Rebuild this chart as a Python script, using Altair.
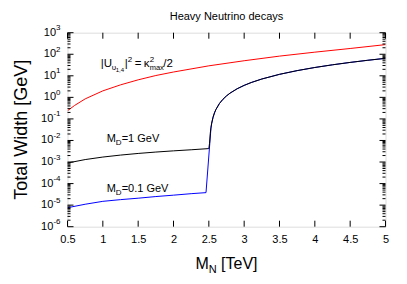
import altair as alt
import pandas as pd

FONT = "Liberation Sans"
W, H = 318, 194

# ---- data ----
red_x = [0.5, 0.6, 0.75, 1.0, 1.25, 1.5, 1.75, 2.0, 2.5, 3.0, 3.5, 4.0, 4.5, 5.0]
red_y = [0.24, 0.42, 0.85, 2.0, 3.8, 6.5, 10.3, 15, 29, 50, 82, 125, 185, 280]

black_x = [0.5, 0.75, 1.0, 1.25, 1.5, 1.75, 2.0, 2.25, 2.5, 2.51, 2.52, 2.53, 2.54,
           2.56, 2.58, 2.6, 2.65, 2.7, 2.75, 2.8, 2.9, 3.0, 3.1, 3.25, 3.5, 3.75,
           4.0, 4.25, 4.5, 4.75, 5.0]
black_y = [9e-4, 1.3e-3, 1.7e-3, 2.1e-3, 2.5e-3, 2.9e-3, 3.3e-3, 3.7e-3, 4.2e-3,
           7.4e-3, 0.0208, 0.040, 0.064, 0.122, 0.193, 0.274, 0.52, 0.82, 1.17,
           1.57, 2.5, 3.6, 4.88, 7.1, 11.7, 17.4, 24.3, 32.4, 41.8, 52.6, 64.8]

blue_x = [0.5, 0.75, 1.0, 1.25, 1.5, 1.75, 2.0, 2.25, 2.46, 2.53, 2.54, 2.56, 2.58,
          2.6, 2.65, 2.7, 2.75, 2.8, 2.9, 3.0, 3.1, 3.25, 3.5, 3.75, 4.0, 4.25,
          4.5, 4.75, 5.0]
blue_y = [7.6e-6, 1.1e-5, 1.5e-5, 1.8e-5, 2.1e-5, 2.5e-5, 2.9e-5, 3.4e-5, 3.8e-5,
          0.036, 0.060, 0.118, 0.189, 0.270, 0.516, 0.816, 1.166, 1.566, 2.5, 3.6,
          4.88, 7.1, 11.7, 17.4, 24.3, 32.4, 41.8, 52.6, 64.8]

x_ticks = [0.5, 1.0, 1.5, 2.0, 2.5, 3.0, 3.5, 4.0, 4.5, 5.0]
y_exps = [-6, -5, -4, -3, -2, -1, 0, 1, 2, 3]
y_minor_mult = [2, 3, 4, 5, 6, 7, 8, 9]

# ---- scales ----
xscale = alt.Scale(domain=[0.5, 5], nice=False, zero=False)
yscale = alt.Scale(type="log", domain=[1e-6, 1e3], nice=False)

X = alt.X("M:Q", scale=xscale,
          axis=alt.Axis(values=x_ticks, format="~g", ticks=False, tickSize=0,
                        domain=False, grid=False, labelFont=FONT,
                        labelFontSize=11, labelPadding=7, labelColor="black",
                        labelFlush=False, title=None))
Y = alt.Y("G:Q", scale=yscale, axis=None)


def line(xs, ys, color):
    df = pd.DataFrame({"M": xs, "G": ys, "o": list(range(len(xs)))})
    return alt.Chart(df).mark_line(color=color, strokeWidth=1, clip=True).encode(
        x=X, y=Y, order="o:Q")


layers = [line(blue_x, blue_y, "#0000ff"),
          line(black_x, black_y, "#000000"),
          line(red_x, red_y, "#ff0000")]

# ---- inward ticks on all four sides ----
xt = pd.DataFrame({"M": x_ticks})
for y0, y1 in [(H, H - 6), (0, 6)]:
    layers.append(alt.Chart(xt).mark_rule(color="black", strokeWidth=1).encode(
        x=X, y=alt.value(y0), y2=alt.value(y1)))

ymaj = pd.DataFrame({"G": [10.0 ** e for e in y_exps]})
ymin = pd.DataFrame({"G": [m * 10.0 ** e for e in y_exps[:-1] for m in y_minor_mult]})
for df, ln in [(ymaj, 6), (ymin, 3)]:
    for x0, x1 in [(0, ln), (W, W - ln)]:
        layers.append(alt.Chart(df).mark_rule(color="black", strokeWidth=1).encode(
            y=Y, x=alt.value(x0), x2=alt.value(x1)))

# ---- y tick labels 10^n ----
lab = pd.DataFrame({"G": [10.0 ** e for e in y_exps],
                    "e": [str(e) for e in y_exps],
                    "neg": [1 if e < 0 else 0 for e in y_exps]})
layers.append(alt.Chart(lab[lab.neg == 1]).mark_text(
    align="right", baseline="middle", dx=-14.2, font=FONT, fontSize=11,
    color="black").encode(y=Y, x=alt.value(0), text=alt.value("10")))
layers.append(alt.Chart(lab[lab.neg == 0]).mark_text(
    align="right", baseline="middle", dx=-11.5, font=FONT, fontSize=11,
    color="black").encode(y=Y, x=alt.value(0), text=alt.value("10")))
layers.append(alt.Chart(lab).mark_text(
    align="right", baseline="middle", dx=-7, dy=-4.5, font=FONT, fontSize=8,
    color="black").encode(y=Y, x=alt.value(0), text="e:N"))


# ---- annotations placed in data coordinates ----
def pieces(mx, gy, parts):
    out = []
    for txt, dx, dy, size in parts:
        df = pd.DataFrame({"M": [mx], "G": [gy], "t": [txt]})
        out.append(alt.Chart(df).mark_text(
            align="left", baseline="alphabetic", dx=dx, dy=dy, font=FONT,
            fontSize=size, color="black").encode(x=X, y=Y, text="t:N"))
    return out


layers += pieces(0.97, 27, [("|U", 0, 0, 11.5), ("υ", 11, 3, 8), ("1,4", 15, 5, 6),
                            ("|", 24, 0, 11.5), ("2", 27, -5, 8), ("=", 34, 0, 11.5),
                            ("κ", 43, 0, 11.5), ("2", 49, -5, 8), ("max", 49, 3, 7.5),
                            ("/2", 62.5, 0, 11.5)])
layers += pieces(1.054, 0.0087, [("M", 0, 0, 11), ("D", 9.2, 3, 8), ("=1 GeV", 15, 0, 11)])
layers += pieces(1.054, 4.2e-5, [("M", 0, 0, 11), ("D", 9.2, 3, 8), ("=0.1 GeV", 15, 0, 11)])


# ---- titles ----
def label(txt, x, y, size, **kw):
    df = pd.DataFrame({"t": [txt]})
    return alt.Chart(df).mark_text(font=FONT, fontSize=size, color="black", **kw).encode(
        x=alt.value(x), y=alt.value(y), text="t:N")


layers.append(label("Heavy Neutrino decays", W / 2, -12.7, 11, align="center",
                    baseline="alphabetic"))
layers.append(label("M", 128, 236.7, 16, align="left", baseline="alphabetic"))
layers.append(label("N", 141.3, 240.7, 11, align="left", baseline="alphabetic"))
layers.append(label("[TeV]", 153.6, 236.7, 16, align="left", baseline="alphabetic"))
layers.append(label("Total Width [GeV]", -45.5, 97, 18, align="center",
                    baseline="middle", angle=270))

chart = alt.layer(*layers).properties(
    width=W, height=H,
    autosize=alt.AutoSizeParams(type="none"),
    padding={"left": 59.5, "top": 24.7, "right": 13, "bottom": 49},
).configure_view(stroke="black", strokeWidth=1).configure(background="white")

chart.save("out.html", embed_options={"renderer": "svg", "actions": False})
